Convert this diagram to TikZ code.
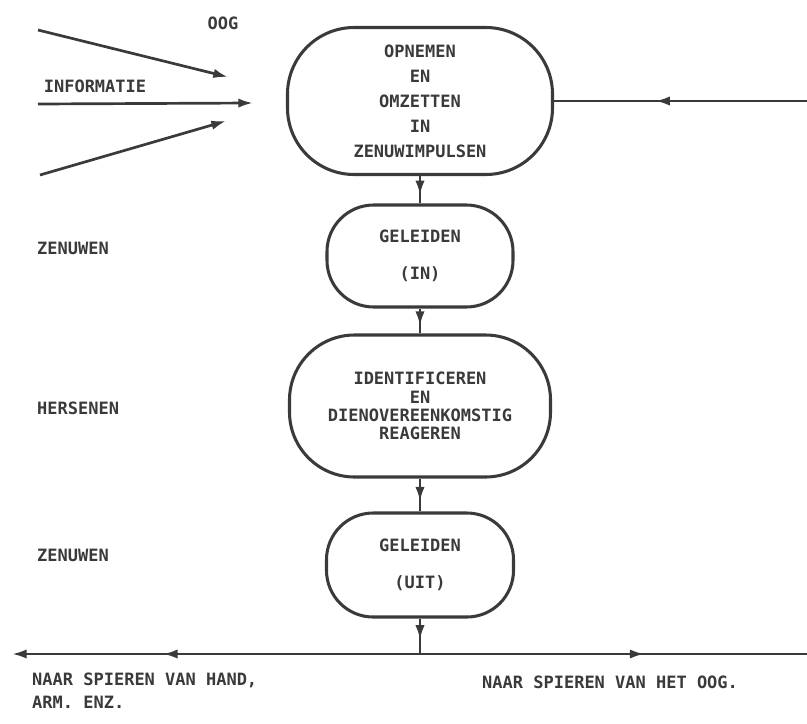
\documentclass[tikz,border=0pt]{standalone}
\usepackage{fontspec}
\setmonofont{DejaVu Sans Mono}
\usetikzlibrary{arrows.meta,decorations.markings}
\definecolor{inkt}{HTML}{3A3A3A}
\tikzset{
  pijl/.tip={Latex[length=4.4mm,width=2.8mm]},
  proces/.style={draw=inkt,line width=2.6pt,inner sep=0pt,align=center,text=inkt},
  tekst/.style={inner sep=0pt,text=inkt},
  lijn/.style={draw=inkt,line width=2.3pt},
  midpijl/.style={postaction={decorate,decoration={markings,mark=at position #1 with {\arrow{pijl}}}}}
}
\begin{document}
\begin{tikzpicture}[x=0.03cm,y=-0.03cm,font=\ttfamily\bfseries\fontsize{14.5}{15.5}\selectfont]
      \useasboundingbox (0,0) rectangle (807,724);
      \node[proces,minimum width=7.95cm,minimum height=4.41cm,rounded corners=2cm] (opnemen) at (420,101)
        {OPNEMEN\\[5.8pt] EN\\[5.8pt] OMZETTEN\\[5.8pt] IN\\[5.8pt] ZENUWIMPULSEN};
      \node[proces,minimum width=5.58cm,minimum height=3.06cm,rounded corners=1.4cm] (geleidenin) at (420,256)
        {GELEIDEN\\[16pt] (IN)};
      \node[proces,minimum width=7.83cm,minimum height=4.26cm,rounded corners=1.95cm] (identificeren) at (420,406)
        {IDENTIFICEREN\\ EN\\ DIENOVEREENKOMSTIG\\ REAGEREN};
      \node[proces,minimum width=5.61cm,minimum height=3.12cm,rounded corners=1.4cm] (geleidenuit) at (420,565)
        {GELEIDEN\\[16pt] (UIT)};
      \draw
        (223,23) node[tekst] (oog) {OOG}
        (95,86) node[tekst] (informatie) {INFORMATIE}
        (37,248) node[tekst,anchor=west] (zenuwenin) {ZENUWEN}
        (37,408) node[tekst,anchor=west] (hersenen) {HERSENEN}
        (37,555) node[tekst,anchor=west] (zenuwenuit) {ZENUWEN}
        (32,673) node[tekst,anchor=north west,align=left] (handarm) {NAAR SPIEREN VAN HAND,\\[4pt]ARM. ENZ.}
        (482,682) node[tekst,anchor=west] (oogspier) {NAAR SPIEREN VAN HET OOG.};
      \coordinate (boven) at (38,30);
      \coordinate (boveneind) at (228,77);
      \coordinate (midden) at (38,104);
      \coordinate (middeneind) at (253,103);
      \coordinate (onder) at (40,175);
      \coordinate (ondereind) at (226,121);
      \coordinate (terug) at (807,101);
      \coordinate (knoop) at (420,654);
      \coordinate (links) at (12,654);
      \coordinate (rechts) at (807,654);
      \begin{scope}[lijn]
        \draw[-pijl] (boven) to (boveneind);
        \draw[-pijl] (midden) to (middeneind);
        \draw[-pijl] (onder) to (ondereind);
        \draw[midpijl=0.6] (terug) to (opnemen.east);
        \draw[midpijl=0.7] (opnemen.south) to (geleidenin.north);
        \draw[midpijl=0.7] (geleidenin.south) to (identificeren.north);
        \draw[midpijl=0.7] (identificeren.south) to (geleidenuit.north);
        \draw[midpijl=0.6] (geleidenuit.south) to (knoop);
        \draw[-pijl,midpijl=0.63] (knoop) to (links);
        \draw[midpijl=0.58] (knoop) to (rechts);
      \end{scope}
    \end{tikzpicture}
\end{document}
